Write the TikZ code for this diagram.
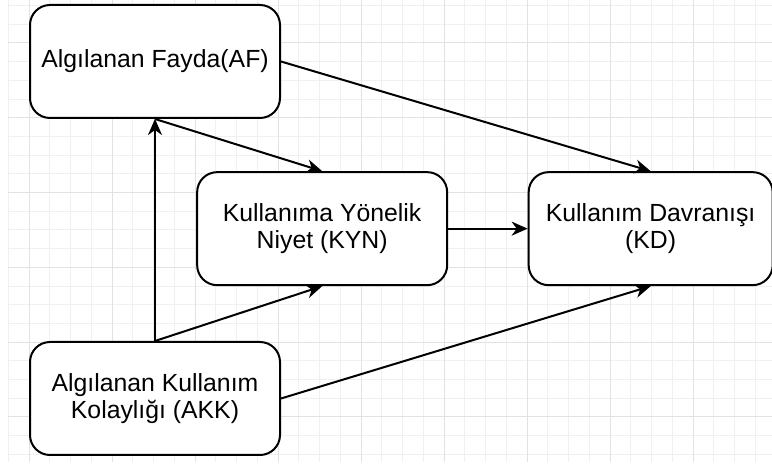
\documentclass[tikz,border=0pt]{standalone}
\usepackage{fontspec}
\setmainfont{Liberation Sans}
\usetikzlibrary{arrows.meta}

\definecolor{gridminor}{HTML}{F0F0F0}
\definecolor{gridmajor}{HTML}{E2E2E2}

\begin{document}
\begin{tikzpicture}[x=0.5pt,y=-0.5pt,->,>={Stealth[length=8pt,width=7pt,inset=2.5pt]},line width=1pt,
  box/.style={draw,rounded corners=10pt,fill=white,align=center,
    minimum width=125pt,minimum height=56.5pt,inner sep=0pt,
    font=\fontsize{12.4}{13.5}\selectfont}]
\useasboundingbox (0,0) rectangle (772,464);
%\draw[-,red] (0,0) rectangle (772,464);

% background grid
\foreach \gx in {0,...,36} \draw[-,gridminor,line width=0.5pt] ({8.25+20.75*\gx},0) -- ({8.25+20.75*\gx},462);
\foreach \gy in {0,...,24} \draw[-,gridminor,line width=0.5pt] (8.25,{5.6+18.7*\gy}) -- (772,{5.6+18.7*\gy});
\foreach \gx in {0,...,8} \draw[-,gridmajor,line width=0.5pt] ({29+83*\gx},0) -- ({29+83*\gx},462);
\foreach \gy in {0,...,5} \draw[-,gridmajor,line width=0.5pt] (8.25,{43+74.8*\gy}) -- (772,{43+74.8*\gy});

\node[box] (af) at (155,61.5) {Algılanan Fayda(AF)};
\node[box] (akk) [below of=af,node distance=168.5pt] {Algılanan Kullanım\\Kolaylığı (AKK)};
\node[box] (kyn) [below right of=af,node distance=118.2pt] {Kullanıma Yönelik\\Niyet (KYN)};
\node[box,minimum width=122pt] (kd) [right of=kyn,node distance=164.25pt] {Kullanım Davranışı\\(KD)};

\path (af.east) edge (kd.north);
\path (af.south) edge (kyn.north);
\path (akk.north) edge (af.south);
\path (akk.north) edge (kyn.south);
\path (kyn.east) edge (kd.west);
\path (akk.east) edge (kd.south);
\end{tikzpicture}
\end{document}
